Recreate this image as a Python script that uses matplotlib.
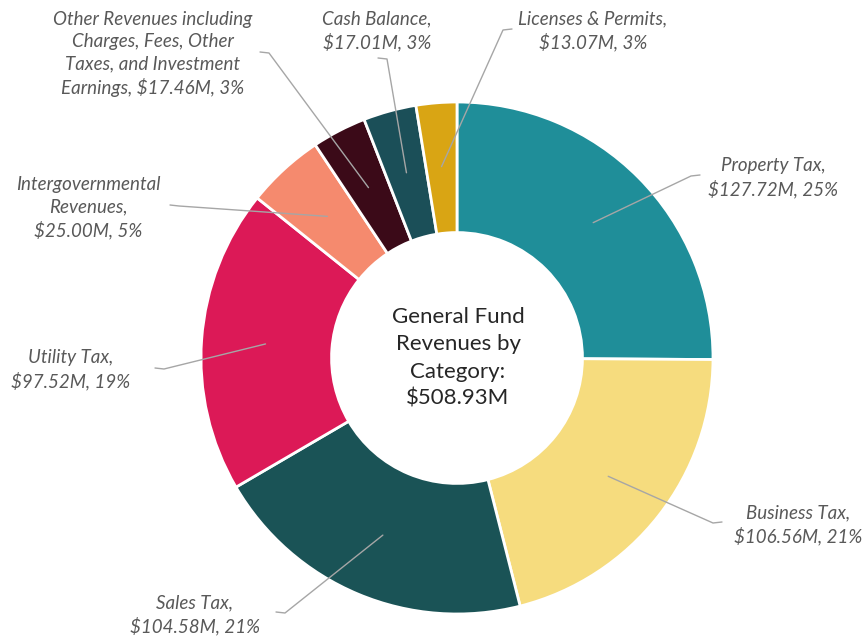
import numpy as np
import matplotlib.pyplot as plt

# General Fund revenues ($M), clockwise from 12 o'clock
categories = ['Property Tax', 'Business Tax', 'Sales Tax', 'Utility Tax',
              'Intergovernmental Revenues',
              'Other Revenues including Charges, Fees, Other Taxes, and Investment Earnings',
              'Cash Balance', 'Licenses & Permits']
values = [127.72, 106.56, 104.58, 97.52, 25.00, 17.46, 17.01, 13.07]
percents = [25, 21, 21, 19, 5, 3, 3, 3]
label_text = [
    'Property Tax,\n$127.72M, 25%',
    'Business Tax,\n$106.56M, 21%',
    'Sales Tax,\n$104.58M, 21%',
    'Utility Tax,\n$97.52M, 19%',
    'Intergovernmental\nRevenues,\n$25.00M, 5%',
    'Other Revenues including\nCharges, Fees, Other\nTaxes, and Investment\nEarnings, $17.46M, 3%',
    'Cash Balance,\n$17.01M, 3%',
    'Licenses & Permits,\n$13.07M, 3%',
]
total = 508.93
colors = ['#1F8E99', '#F6DC7E', '#1A5356', '#DC1957', '#F58A6E',
          '#3B0A18', '#1B4F58', '#D9A514']

W, H = 866, 636
fig = plt.figure(figsize=(W / 100, H / 100), dpi=100)
ax = fig.add_axes([0, 0, 1, 1])

cx, cy, R = 457, H - 358, 256
wedges, _ = ax.pie(values, colors=colors, startangle=90, counterclock=False,
                   radius=R, center=(cx, cy), frame=True,
                   wedgeprops=dict(width=R * 0.51, edgecolor='white', linewidth=2))
ax.set_xlim(0, W)
ax.set_ylim(0, H)
ax.set_aspect('equal')
ax.axis('off')

# label centres and leader-line tails (image pixel coords, y down)
label_pos = [(773, 178), (798, 525), (195, 615), (71, 370), (88, 208),
             (153, 54), (377, 31), (593, 31)]
tails = [(700, 175), (722, 522), (276, 612), (155, 368), (170, 205),
         (260, 52), (378, 58), (512, 29)]

font = dict(family=['Lato', 'DejaVu Sans'], style='italic', size=13.5,
            color='#595959', linespacing=1.35)

for w, txt, (lx, ly), (tx, ty) in zip(wedges, label_text, label_pos, tails):
    mid = np.deg2rad((w.theta1 + w.theta2) / 2)
    ax_, ay_ = cx + 0.75 * R * np.cos(mid), cy + 0.75 * R * np.sin(mid)
    ty = H - ty
    step = 9 if ax_ > tx else -9
    ax.plot([tx, tx + step, ax_], [ty, ty - 1, ay_], color='#A6A6A6', lw=1,
            solid_capstyle='round', zorder=3)
    ax.text(lx, H - ly, txt, ha='center', va='center', **font)

ax.text(cx + 1, cy, 'General Fund\nRevenues by\nCategory:\n${:.2f}M'.format(total),
        ha='center', va='center', fontsize=16, color='#262626',
        family=['Lato', 'DejaVu Sans'], linespacing=1.45)

fig.savefig('out.png', dpi=100, facecolor='white')
